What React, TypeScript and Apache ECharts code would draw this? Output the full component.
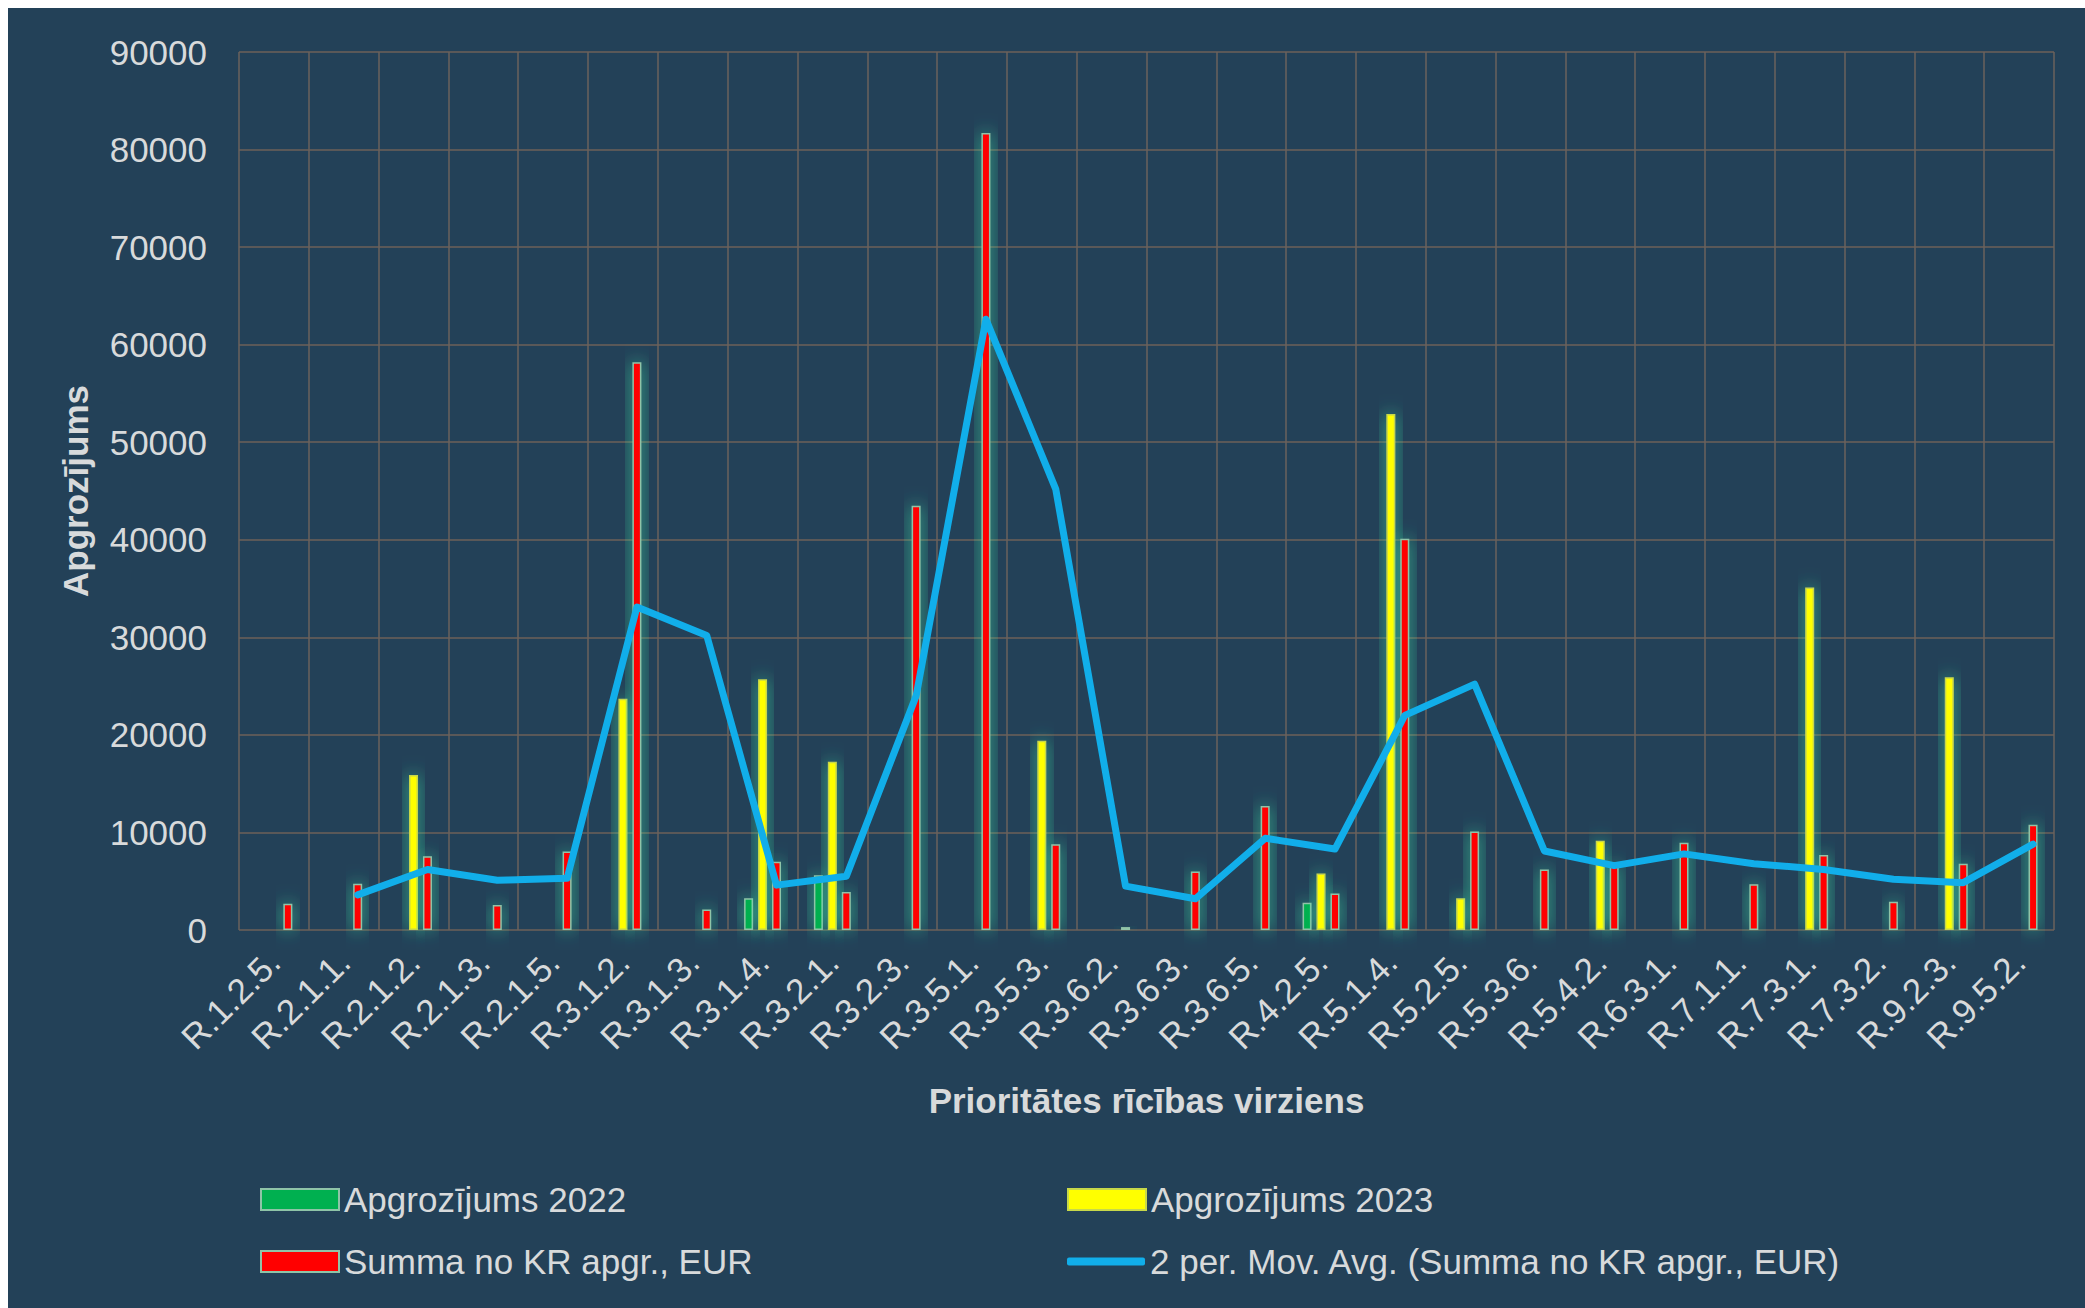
import React, { useEffect, useRef } from "react";
import * as echarts from "echarts";

const categories = [
  "R.1.2.5.", "R.2.1.1.", "R.2.1.2.", "R.2.1.3.", "R.2.1.5.", "R.3.1.2.", "R.3.1.3.",
  "R.3.1.4.", "R.3.2.1.", "R.3.2.3.", "R.3.5.1.", "R.3.5.3.", "R.3.6.2.", "R.3.6.3.",
  "R.3.6.5.", "R.4.2.5.", "R.5.1.4.", "R.5.2.5.", "R.5.3.6.", "R.5.4.2.", "R.6.3.1.",
  "R.7.1.1.", "R.7.3.1.", "R.7.3.2.", "R.9.2.3.", "R.9.5.2.",
];

const values2022 = [
  null, null, null, null, null, null, null, 3250, 5600, null, null, null, null, null,
  null, 2800, null, null, null, null, null, null, null, null, null, null,
];

const values2023 = [
  null, null, 15900, null, null, 23700, null, 25700, 17250, null, null, 19400, null, null,
  null, 5800, 52900, 3250, null, 9150, null, null, 35100, null, 25900, null,
];

const valuesKR = [
  2700, 4750, 7550, 2550, 8050, 58200, 2100, 7000, 3900, 43500, 81700, 8800, 300, 6000,
  12700, 3750, 40100, 10100, 6200, 6700, 8950, 4700, 7700, 2900, 6800, 10800,
];

const movAvg = [
  null, 3600, 6200, 5100, 5300, 33100, 30200, 4600, 5500, 24000, 62600, 45200, 4500, 3200,
  9400, 8300, 22000, 25200, 8100, 6600, 7800, 6800, 6200, 5200, 4850, 8800,
];

const yTicks = { min: 0, max: 90000, interval: 10000 };

const NAMES = {
  g: "Apgrozījums 2022",
  y: "Apgrozījums 2023",
  r: "Summa no KR apgr., EUR",
  l: "2 per. Mov. Avg. (Summa no KR apgr., EUR)",
};

// line drawn at the position of the red bar within each category (category units)
const LINE_OFFSET = 0.2;

const FONT = "'Liberation Sans', Arial, sans-serif";
const TXT = "#d8dadb";

export default function App() {
  const ref = useRef<HTMLDivElement>(null);

  useEffect(() => {
    if (!ref.current) return;
    const chart = echarts.init(ref.current, null, { renderer: "svg" });

    const glow = "rgba(60,235,170,0.75)";
    const barBase = {
      type: "bar",
      barWidth: 9,
      barGap: "55%",
      xAxisIndex: 0,
      yAxisIndex: 0,
    };

    const lineData = movAvg
      .map((v, i) => (v == null ? null : [i + LINE_OFFSET, v]))
      .filter((d) => d != null);

    const legendText = { color: TXT, fontSize: 35, fontFamily: FONT };
    const legendBase = {
      orient: "horizontal",
      itemWidth: 78,
      itemHeight: 21,
      icon: "rect",
      textStyle: legendText,
      selectedMode: false,
    };

    chart.setOption({
      animation: false,
      backgroundColor: "#234158",
      textStyle: { fontFamily: FONT },
      grid: { left: 231, top: 44, width: 1815, height: 878, containLabel: false },
      legend: [
        { ...legendBase, data: [NAMES.g], left: 247, top: 1169 },
        { ...legendBase, data: [NAMES.y], left: 1054, top: 1169 },
        { ...legendBase, data: [NAMES.r], left: 247, top: 1231 },
        {
          ...legendBase,
          data: [NAMES.l],
          left: 1054,
          top: 1231,
          itemHeight: 8,
          icon: "roundRect",
        },
      ],
      xAxis: [
        {
          type: "category",
          data: categories,
          boundaryGap: true,
          name: "Prioritātes rīcības virziens",
          nameLocation: "middle",
          nameGap: 153,
          nameTextStyle: { color: TXT, fontSize: 35, fontWeight: "bold", fontFamily: FONT },
          axisLine: { show: false },
          axisTick: { show: false },
          axisLabel: {
            color: TXT,
            fontSize: 35,
            rotate: 45,
            interval: 0,
            margin: 26,
            fontFamily: FONT,
          },
          splitLine: { show: true, lineStyle: { color: "#6b625c", width: 1.5 } },
        },
        {
          type: "value",
          min: -0.5,
          max: 25.5,
          show: false,
          splitLine: { show: false },
        },
      ],
      yAxis: {
        type: "value",
        min: yTicks.min,
        max: yTicks.max,
        interval: yTicks.interval,
        name: "Apgrozījums",
        nameLocation: "middle",
        nameGap: 146,
        nameTextStyle: { color: TXT, fontSize: 35, fontWeight: "bold", fontFamily: FONT },
        axisLine: { show: false },
        axisTick: { show: false },
        axisLabel: {
          color: TXT,
          fontSize: 35,
          margin: 32,
          fontFamily: FONT,
          formatter: (v: number) => String(v),
        },
        splitLine: { show: true, lineStyle: { color: "#6e6158", width: 1.5 } },
      },
      series: [
        {
          ...barBase,
          name: NAMES.g,
          data: values2022,
          itemStyle: {
            color: "#00b050",
            borderColor: "#8fc4a8",
            borderWidth: 1.5,
            shadowBlur: 18,
            shadowColor: glow,
          },
        },
        {
          ...barBase,
          name: NAMES.y,
          data: values2023,
          itemStyle: {
            color: "#ffff00",
            borderColor: "#c8d84a",
            borderWidth: 1.5,
            shadowBlur: 18,
            shadowColor: glow,
          },
        },
        {
          ...barBase,
          name: NAMES.r,
          data: valuesKR,
          itemStyle: {
            color: "#ff0000",
            borderColor: "#8fc4a8",
            borderWidth: 1.5,
            shadowBlur: 18,
            shadowColor: glow,
          },
        },
        {
          type: "line",
          name: NAMES.l,
          xAxisIndex: 1,
          yAxisIndex: 0,
          data: lineData,
          showSymbol: false,
          symbol: "none",
          z: 5,
          lineStyle: { color: "#11aeea", width: 7, cap: "round", join: "round" },
          itemStyle: { color: "#11aeea" },
        },
      ],
    });

    return () => chart.dispose();
  }, []);

  return (
    <div
      ref={ref}
      style={{ position: "fixed", left: 8, top: 8, width: 2077, height: 1300 }}
    />
  );
}
